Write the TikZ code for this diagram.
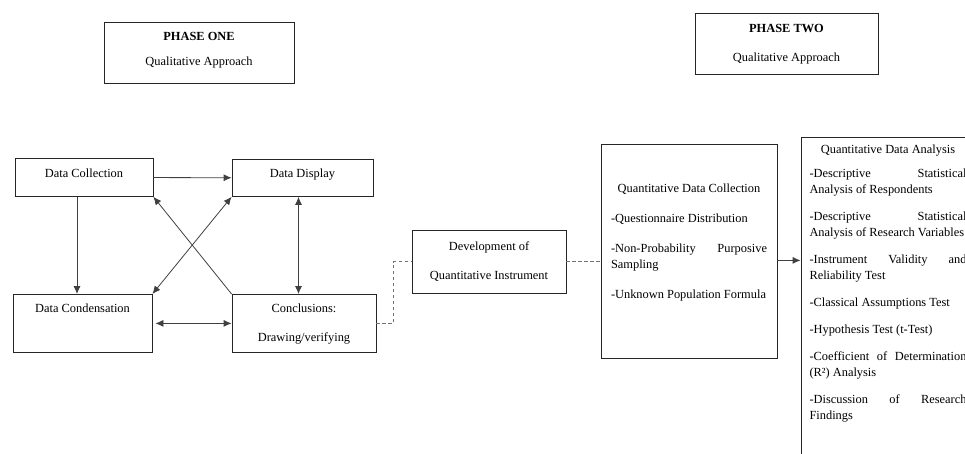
\documentclass[tikz,border=0pt]{standalone}
\usepackage{fontspec}
\setmainfont{Liberation Serif}
\usetikzlibrary{arrows.meta}

\tikzset{
  box/.style={draw=black!85, line width=.8pt, inner sep=0pt, align=center,
    font=\fontsize{12.4}{16}\selectfont},
  link/.style={draw=black!75, line width=.8pt},
  dashlink/.style={draw=black!55, line width=1pt, dash pattern=on 3.5pt off 2.5pt}
}

\begin{document}
\begin{tikzpicture}[x=1pt, y=-1pt, >={Latex[length=8pt,width=7pt]}]
\useasboundingbox (0,0) rectangle (965,453);
\clip (0,0) rectangle (965,453);

% phase headers
\node[box, anchor=north, minimum width=190pt, text height=43pt, text depth=18pt] (phaseone) at (199,22)
  {\textbf{PHASE ONE}\\[9pt]Qualitative Approach};
\node[box, anchor=north, minimum width=183pt, text height=48pt, text depth=13pt] (phasetwo) at (786.5,13)
  {\textbf{PHASE TWO}\\[13pt]Qualitative Approach};

% qualitative cycle
\node[box, anchor=north, minimum width=138pt, text height=19pt, text depth=19pt] (collect) at (84,158) {Data Collection};
\node[box, anchor=north, minimum width=141pt, text height=18pt, text depth=19pt] (display) at (302.5,159) {Data Display};
\node[box, anchor=north, minimum width=139pt, text height=18pt, text depth=40pt] (condense) at (82.5,294) {Data Condensation};
\node[box, anchor=north, minimum width=144pt, text height=47pt, text depth=11pt] (conclude) at (304,294)
  {Conclusions:\\[13pt]Drawing/verifying};

\draw[link,->] (collect) -- (display);
\draw[link,->] ([xshift=-7pt]collect.south) -- ([xshift=-7pt]collect.south |- condense.north);
\draw[link,<->] ([xshift=-4pt]display.south) -- ([xshift=-4pt]display.south |- conclude.north);
\draw[link,<->, shorten <=3pt] (condense.east) -- (conclude.west);
\draw[link,->] (conclude.north west) -- (collect.south east);
\draw[link,<->] (condense.north east) -- (display.south west);

% instrument
\node[box, anchor=north, minimum width=154pt, text height=49pt, text depth=14pt] (develop) at (489,230)
  {Development of\\[13pt]Quantitative Instrument};
\draw[dashlink] (conclude.east) -- ++(17,0) |- (develop.west);

% quantitative part
\node[box, anchor=north, minimum width=176pt, text width=156pt, align=justify,
  text height=48pt, text depth=166pt] (qdc) at (689,144)
  {\setlength{\parskip}{14pt}\hyphenpenalty=10000\exhyphenpenalty=10000
   \hspace*{\fill}Quantitative Data Collection\hspace*{\fill}\par
   -Questionnaire Distribution\par
   -Non-Probability\hfill Purposive\linebreak Sampling\par
   -Unknown Population Formula};
\draw[dashlink] (develop.east) -- (develop.east -| qdc.west);

\node[box, anchor=north, minimum width=174pt, text width=157pt, align=justify,
  text height=16pt, text depth=317pt] (qda) at (888,137)
  {\setlength{\parskip}{11pt}\hyphenpenalty=10000\exhyphenpenalty=10000
   \hspace*{\fill}Quantitative Data Analysis\hspace*{\fill}\par\vspace{-3pt}
   -Descriptive\hfill Statistical\linebreak Analysis of Respondents\par
   -Descriptive\hfill Statistical\linebreak Analysis of Research Variables\par
   -Instrument\hfill Validity\hfill and\linebreak Reliability Test\par
   -Classical Assumptions Test\par
   -Hypothesis Test (t-Test)\par
   -Coefficient of Determination\linebreak (R²) Analysis\par
   -Discussion\hfill of\hfill Research\linebreak Findings};
\draw[link,->] ([yshift=-9pt]qdc.east) -- ([yshift=-9pt]qdc.east -| qda.west);

\end{tikzpicture}
\end{document}
